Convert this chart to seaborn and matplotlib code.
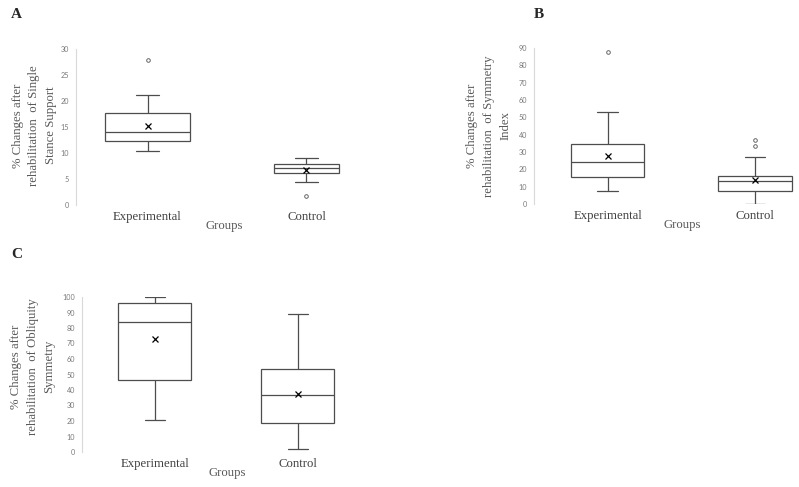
import matplotlib.pyplot as plt
import numpy as np
import pandas as pd
import seaborn as sns

groups = ["Experimental", "Control"]

# A - single stance support (% change)
single_stance_exp = [10.3, 10.4, 10.6, 12.4, 12.5, 12.8, 14.0, 14.2, 14.5, 17.7, 17.8, 21.2, 27.9]
single_stance_ctrl = [1.7, 4.35, 5.8, 6.15, 6.5, 6.9, 7.05, 7.2, 7.55, 7.8, 8.2, 8.8, 9.1]

# B - symmetry index (% change)
symmetry_exp = [7.3, 8.5, 10.5, 15.4, 16.0, 17.0, 24.4, 25.0, 26.0, 34.6, 35.0, 52.9, 87.5]
symmetry_ctrl = [0.0, 1.5, 3.0, 5.0, 7.3, 7.8, 9.0, 11.0, 13.3, 13.6, 14.2, 15.0, 16.0,
                 18.8, 26.9, 33.6, 36.9]

# C - obliquity symmetry (% change)
obliquity_exp = [20.9, 40.0, 46.7, 78.0, 83.9, 94.0, 95.9, 98.7, 99.8]
obliquity_ctrl = [2.2, 10.0, 18.9, 28.0, 36.6, 42.0, 53.5, 56.6, 88.8]

W, H = 799, 487
LINE = "#4d4d4d"
GRAY_TXT = "#595959"
SERIF = ["Liberation Serif", "DejaVu Serif"]


def to_long(exp_vals, ctrl_vals):
    return pd.DataFrame({
        "value": exp_vals + ctrl_vals,
        "group": [groups[0]] * len(exp_vals) + [groups[1]] * len(ctrl_vals),
    })


def draw_panel(fig, px, df, letter, letter_px, ylabel, ymax, ystep, xlim, widths,
               ylab_pos, groups_x):
    left, top, right, bottom = px
    ax = fig.add_axes([left / W, (H - bottom) / H, (right - left) / W, (bottom - top) / H])
    for g, w in zip(groups, widths):
        sns.boxplot(data=df[df.group == g], x="group", y="value", order=groups, ax=ax,
                    width=w, color="white", linecolor=LINE, linewidth=0.9,
                    showmeans=True, capwidths=0.14,
                    meanprops=dict(marker="x", markeredgecolor="black", markersize=4.5,
                                   markeredgewidth=0.9),
                    flierprops=dict(marker="o", markersize=2.6, markerfacecolor="none",
                                    markeredgecolor="#666666", markeredgewidth=0.7))
    ax.set_xlim(*xlim)
    ax.set_ylim(0, ymax)
    ax.set_yticks(np.arange(0, ymax + 1, ystep))
    for s in ["top", "right", "bottom"]:
        ax.spines[s].set_visible(False)
    ax.spines["left"].set_color("#d9d9d9")
    ax.spines["left"].set_linewidth(0.8)
    ax.tick_params(axis="both", length=0)
    ax.tick_params(axis="y", labelsize=5.2, labelcolor="#7a7a7a", pad=5)
    ax.tick_params(axis="x", labelsize=9.2, labelcolor="#404040", pad=4)
    for t in ax.get_xticklabels():
        t.set_family(SERIF)
    for t in ax.get_yticklabels():
        t.set_family(["Lato", "DejaVu Sans"])
    ax.set_xlabel("Groups", family=SERIF, fontsize=9.2, color=GRAY_TXT)
    ax.xaxis.set_label_coords(groups_x, -0.095)
    ax.set_ylabel(ylabel, family=SERIF, fontsize=9.2, color=GRAY_TXT, linespacing=1.5)
    ax.yaxis.label.set_va("center")
    ax.yaxis.set_label_coords(*ylab_pos)
    fig.text(letter_px[0] / W, 1 - letter_px[1] / H, letter, family=SERIF, fontsize=11,
             fontweight="bold", ha="left", va="center")
    return ax


sns.set_style("white")
fig = plt.figure(figsize=(W / 100, H / 100), dpi=100)

draw_panel(fig, (76, 49, 378, 205), to_long(single_stance_exp, single_stance_ctrl), "A", (11, 14),
           "% Changes after\nrehabilitation  of Single\nStance Support", 30, 5,
           (-0.45, 1.45), (0.53, 0.41), (-0.139, 0.51), 0.49)
draw_panel(fig, (534, 48, 799, 204), to_long(symmetry_exp, symmetry_ctrl), "B", (534, 14),
           "% Changes after\nrehabilitation  of Symmetry\nIndex", 90, 10,
           (-0.5, 1.3), (0.5, 0.5), (-0.17, 0.5), 0.56)
draw_panel(fig, (82, 297, 362, 452), to_long(obliquity_exp, obliquity_ctrl), "C", (11, 255),
           "% Changes after\nrehabilitation  of Obliquity\nSymmetry", 100, 10,
           (-0.51, 1.45), (0.51, 0.51), (-0.175, 0.55), 0.52)

fig.savefig("out.png", dpi=100, facecolor="white")
